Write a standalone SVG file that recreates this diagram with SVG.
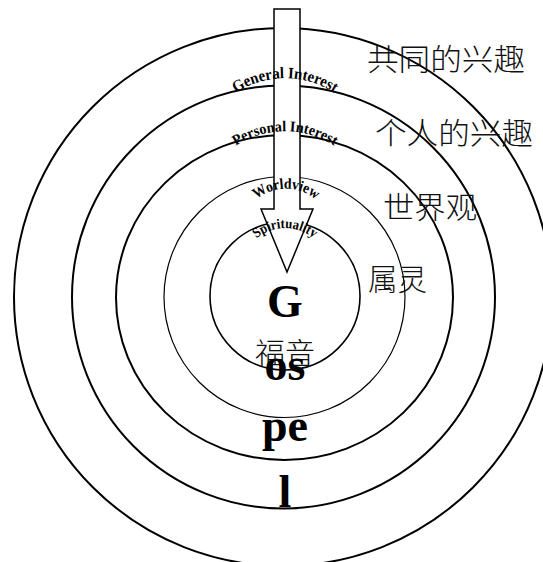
<svg xmlns="http://www.w3.org/2000/svg" xmlns:xlink="http://www.w3.org/1999/xlink" width="543" height="562" viewBox="0 0 543 562">
<style>
.ring{fill:none;stroke:#000}
.arc{font-family:"Liberation Serif","Times New Roman",serif;font-weight:bold;fill:#000}
.big{font-family:"Liberation Serif","Times New Roman",serif;font-weight:bold;font-size:46px;fill:#000;text-anchor:middle}
.cjk{font-family:"Noto Sans CJK SC",sans-serif;font-weight:300;font-size:30px;fill:#111}
</style>
<defs>
<path id="pGen" d="M196.4,152.4 A90,90 0 0 1 373.6,152.4"/>
<path id="pPer" d="M196.4,205.4 A90,90 0 0 1 373.6,205.4"/>
<path id="pWor" d="M243.7,218.2 A45,45 0 0 1 328.3,218.2"/>
<path id="pSpi" d="M240.7,265.2 A45,45 0 0 1 329.3,265.2"/>
</defs>
<rect width="543" height="562" fill="#fff"/>
<g id="rings">
<g id="ring-general"><circle class="ring" cx="283" cy="297" r="269" stroke-width="2"/></g>
<g id="ring-personal"><circle class="ring" cx="283.5" cy="297" r="211.5" stroke-width="2"/></g>
<g id="ring-worldview"><ellipse class="ring" cx="284.5" cy="297.5" rx="168.5" ry="162.5" stroke-width="2"/></g>
<g id="ring-spirituality"><circle class="ring" cx="284.5" cy="297" r="120.5" stroke-width="1.2"/></g>
<g id="ring-gospel"><ellipse class="ring" cx="285" cy="296" rx="75" ry="74" stroke-width="1.6"/></g>
</g>
<g id="connectors">
<polygon id="arrow" points="274,9 300,9 300,209 313,209 287,272 261,209 274,209" fill="#fff" stroke="#000" stroke-width="1.5"/>
</g>
<g id="arc-labels">
<text class="arc" font-size="16"><textPath xlink:href="#pGen" href="#pGen" startOffset="50%" text-anchor="middle" textLength="104" lengthAdjust="spacingAndGlyphs">General Interest</textPath></text>
<text class="arc" font-size="15"><textPath xlink:href="#pPer" href="#pPer" startOffset="50%" text-anchor="middle" textLength="104" lengthAdjust="spacingAndGlyphs">Personal Interest</textPath></text>
<text class="arc" font-size="15"><textPath xlink:href="#pWor" href="#pWor" startOffset="50%" text-anchor="middle" textLength="64" lengthAdjust="spacingAndGlyphs">Worldview</textPath></text>
<text class="arc" font-size="14"><textPath xlink:href="#pSpi" href="#pSpi" startOffset="50%" text-anchor="middle" textLength="62" lengthAdjust="spacingAndGlyphs">Spirituality</textPath></text>
</g>
<g id="side-labels">
<text class="cjk" x="367" y="70" font-size="31" textLength="158" lengthAdjust="spacingAndGlyphs">共同的兴趣</text>
<text class="cjk" x="375" y="144" font-size="31" textLength="158" lengthAdjust="spacingAndGlyphs">个人的兴趣</text>
<text class="cjk" x="383" y="218" font-size="31" textLength="94" lengthAdjust="spacingAndGlyphs">世界观</text>
<text class="cjk" x="368" y="290" textLength="59" lengthAdjust="spacingAndGlyphs">属灵</text>
</g>
<g id="center-label">
<text class="cjk" x="255" y="364" textLength="60" lengthAdjust="spacingAndGlyphs">福音</text>
<text class="big" x="285" y="317">G</text>
<text class="big" x="285" y="380">os</text>
<text class="big" x="285" y="441">pe</text>
<text class="big" x="285" y="507">l</text>
</g>
</svg>
